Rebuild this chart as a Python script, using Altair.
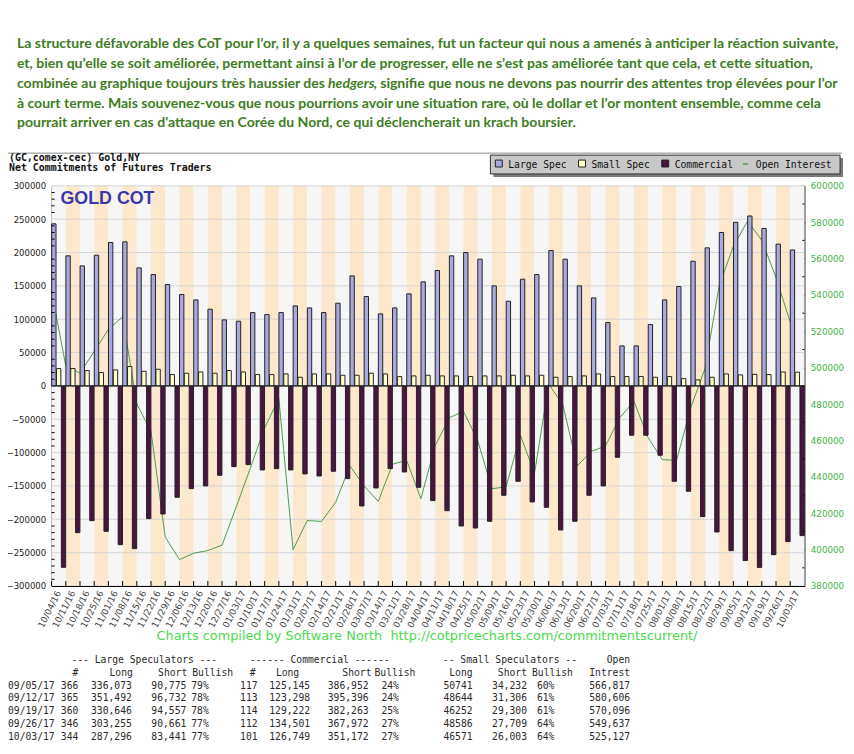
import altair as alt
import pandas as pd

# ---------------- data ----------------
dates = ["10/04/16", "10/11/16", "10/18/16", "10/25/16", "11/01/16", "11/08/16", "11/15/16",
         "11/22/16", "11/29/16", "12/06/16", "12/13/16", "12/20/16", "12/27/16",
         "01/03/17", "01/10/17", "01/17/17", "01/24/17", "01/31/17", "02/07/17", "02/14/17",
         "02/21/17", "02/28/17", "03/07/17", "03/14/17", "03/21/17", "03/28/17", "04/04/17",
         "04/11/17", "04/18/17", "04/25/17", "05/02/17", "05/09/17", "05/16/17", "05/23/17",
         "05/30/17", "06/06/17", "06/13/17", "06/20/17", "06/27/17", "07/03/17", "07/11/17",
         "07/18/17", "07/25/17", "08/01/17", "08/08/17", "08/15/17", "08/22/17", "08/29/17",
         "09/05/17", "09/12/17", "09/19/17", "09/26/17", "10/03/17"]

large_spec = [243000, 195000, 180000, 196000, 215000, 216000, 177000, 167000, 152000, 137000,
              129000, 115000, 99000, 97000, 110000, 107000, 110000, 120000, 117000, 110000,
              124000, 165000, 134000, 108000, 117000, 138000, 156000, 173000, 195000, 200000,
              190000, 150000, 127000, 160000, 167000, 203000, 190000, 150000, 132000, 95000,
              60000, 60000, 92000, 129000, 149000, 187000, 207000, 230000, 245298, 254760,
              236089, 212594, 203855]

small_spec = [26000, 26000, 23000, 20000, 24000, 29000, 22000, 25000, 17000, 19000, 21000,
              19000, 23000, 21000, 17000, 17000, 18000, 13000, 18000, 18000, 16000, 16000,
              19000, 18000, 14000, 15000, 16000, 15000, 15000, 14000, 15000, 15000, 16000,
              15000, 16000, 13000, 14000, 15000, 18000, 14000, 14000, 14000, 13000, 14000,
              11000, 9000, 13000, 18000, 16509, 17338, 16952, 20877, 20568]

commercial = [-272000, -220000, -202000, -218000, -238000, -244000, -199000, -192000, -167000,
              -154000, -150000, -134000, -121000, -118000, -126000, -124000, -126000, -132000,
              -135000, -128000, -139000, -180000, -153000, -124000, -129000, -152000, -172000,
              -187000, -210000, -213000, -203000, -164000, -143000, -174000, -182000, -216000,
              -203000, -164000, -150000, -107000, -74000, -74000, -104000, -143000, -158000,
              -196000, -219000, -247000, -261807, -272098, -253041, -233471, -224423]

open_interest = [542000, 501000, 497000, 509000, 521000, 528000, 480000, 465000, 407000, 394500,
                 398000, 399500, 402500, 423500, 445000, 467000, 483000, 400000, 416000, 415500,
                 426000, 446000, 435000, 426500, 447000, 449000, 428000, 457000, 472500, 476000,
                 460000, 433500, 434500, 463000, 442000, 491000, 479500, 446000, 454000, 457000,
                 472500, 481500, 461500, 449500, 449000, 478000, 499500, 545000, 566817, 580606,
                 570096, 549637, 525127]

series_names = ["Large Spec", "Small Spec", "Commercial"]
legend_labels = ["Large Spec", "Small Spec", "Commercial", "Open Interest"]

paragraph = [
    "La structure défavorable des CoT pour l’or, il y a quelques semaines, fut un facteur qui nous a amenés à anticiper la réaction suivante,",
    "et, bien qu’elle se soit améliorée, permettant ainsi à l’or de progresser, elle ne s’est pas améliorée tant que cela, et cette situation,",
    ["combinée au graphique toujours très haussier des", "hedgers", ", signifie que  nous ne devons pas nourrir des attentes trop élevées pour l’or"],
    "à court terme. Mais souvenez-vous que nous pourrions avoir une situation rare, où le dollar et l’or montent ensemble, comme cela",
    "pourrait arriver en cas d'attaque en Corée du Nord, ce qui déclencherait un krach boursier.",
]
header_lines = ["(GC,comex-cec) Gold,NY", "Net Commitments of Futures Traders"]
badge = "GOLD COT"
credit = "Charts compiled by Software North\u00a0 http://cotpricecharts.com/commitmentscurrent/"

table_groups = ["--- Large Speculators ---", "------ Commercial ------", "-- Small Speculators --", "Open"]
table_heads = ["#", "Long", "Short", "Bullish", "#", "Long", "Short", "Bullish",
               "Long", "Short", "Bullish", "Intrest"]
tbl_dates = ["09/05/17", "09/12/17", "09/19/17", "09/26/17", "10/03/17"]
ls_n = ["366", "365", "360", "346", "344"]
ls_long = ["336,073", "351,492", "330,646", "303,255", "287,296"]
ls_short = ["90,775", "96,732", "94,557", "90,661", "83,441"]
ls_bull = ["79%", "78%", "78%", "77%", "77%"]
c_n = ["117", "113", "114", "112", "101"]
c_long = ["125,145", "123,298", "129,222", "134,501", "126,749"]
c_short = ["386,952", "395,396", "382,263", "367,972", "351,172"]
c_bull = ["24%", "24%", "25%", "27%", "27%"]
ss_long = ["50741", "48644", "46252", "48586", "46571"]
ss_short = ["34,232", "31,306", "29,300", "27,709", "26,003"]
ss_bull = ["60%", "61%", "61%", "64%", "64%"]
oi_tbl = ["566,817", "580,606", "570,096", "549,637", "525,127"]

# ---------------- styles ----------------
W, H = 760, 404
bar_colors = ["#A9A9DF", "#FFFFC8", "#4A1440"]
oi_color = "#4C9C4C"
stripe_a, stripe_b = "#F6F6F6", "#FCE8CC"
para_color = "#3E7D23"
mono = "DejaVu Sans Mono"
sans = "DejaVu Sans"

df = pd.DataFrame({"date": dates, "Large Spec": large_spec, "Small Spec": small_spec,
                   "Commercial": commercial, "oi": open_interest})
df["stripe"] = [i % 2 for i in range(len(dates))]
long_df = df.melt(id_vars=["date"], value_vars=series_names, var_name="series", value_name="value")

xscale = alt.Scale(type="band", domain=dates, paddingInner=0, paddingOuter=0)
xaxis = alt.Axis(title=None, bandPosition=0, labelAngle=-63, labelFont=sans, labelFontSize=9,
                 labelColor="#444", ticks=False, grid=False, domainColor="#000",
                 labelPadding=5, labelOverlap=False)


def X(**kw):
    return alt.X("date:N", sort=dates, scale=xscale, axis=xaxis, **kw)


yL = alt.Scale(domain=[-300000, 300000], nice=False, zero=False)
yR = alt.Scale(domain=[380000, 600000], nice=False, zero=False)
left_ticks = list(range(-300000, 300001, 50000))
right_ticks = list(range(380000, 600001, 20000))
left_minor = [v for v in range(-300000, 300001, 10000) if v % 50000]
right_minor = [v for v in range(380000, 600001, 10000) if v % 20000]

yaxisL = alt.Axis(title=None, values=left_ticks, format="d", labelFont=sans, labelFontSize=8.6,
                  labelColor="#222", grid=False, domainColor="#000", tickColor="#000",
                  tickSize=alt.ExprRef("-5"), labelPadding=11)
yaxisR = alt.Axis(title=None, orient="right", values=right_ticks, format="d", labelFont=sans,
                  labelFontSize=8.8, labelColor="#3FAF3F", grid=False, domainColor="#000",
                  tickColor="#000", tickSize=alt.ExprRef("-4"), labelPadding=10)

stripes = alt.Chart(df).mark_rect().encode(
    x=X(),
    color=alt.condition("datum.stripe == 1", alt.value(stripe_b), alt.value(stripe_a)),
)
grid = alt.Chart(pd.DataFrame({"v": left_ticks})).mark_rule(color="#D6D6D6", strokeWidth=1).encode(
    y=alt.Y("v:Q", scale=yL, axis=None))
line = alt.Chart(df).mark_line(color=oi_color, strokeWidth=1).encode(
    x=X(bandPosition=0), y=alt.Y("oi:Q", scale=yR, axis=yaxisR))
bars = alt.Chart(long_df).mark_bar(stroke="#222", strokeWidth=1).encode(
    x=X(),
    xOffset=alt.XOffset("series:N", sort=series_names,
                        scale=alt.Scale(domain=series_names, paddingInner=0.1, paddingOuter=0.02)),
    y=alt.Y("value:Q", scale=yL, axis=yaxisL),
    color=alt.Color("series:N", scale=alt.Scale(domain=series_names, range=bar_colors), legend=None),
)
zero = alt.Chart(pd.DataFrame({"v": [0]})).mark_rule(color="#222", strokeWidth=1).encode(
    y=alt.Y("v:Q", scale=yL, axis=None))
xticks = alt.Chart(df).mark_rule(color="#000").encode(
    x=X(bandPosition=0), y=alt.value(H - 5), y2=alt.value(H))
minorL = alt.Chart(pd.DataFrame({"v": left_minor})).mark_rule(color="#000").encode(
    x=alt.value(0), x2=alt.value(3), y=alt.Y("v:Q", scale=yL, axis=None))
minorR = alt.Chart(pd.DataFrame({"v": right_minor})).mark_rule(color="#000").encode(
    x=alt.value(W - 2), x2=alt.value(W), y=alt.Y("v:Q", scale=yR, axis=None))

layers = [stripes, grid, line, bars, zero, xticks, minorL, minorR]


def txt(s, x, y, **kw):
    return alt.Chart(pd.DataFrame({"t": [s]})).mark_text(**kw).encode(
        text="t:N", x=alt.value(x), y=alt.value(y))


# paragraph (page x 17, line centres at page y 41, 61, ...)
for i, ln in enumerate(paragraph):
    y = -143 + 20 * i
    style = dict(font="Lato", fontSize=14.2, fontWeight="bold", color=para_color,
                 align="left", baseline="middle")
    if isinstance(ln, list):
        layers.append(txt(ln[0], -35, y, **style))
        layers.append(txt(ln[1], 279, y, fontStyle="italic", **style))
        layers.append(txt(ln[2], 325, y, **style))
    else:
        layers.append(txt(ln, -35, y, **style))

# top rule and header
layers.append(alt.Chart(pd.DataFrame({"a": [0]})).mark_rule(color="#8A8A8A").encode(
    x=alt.value(-44), x2=alt.value(798), y=alt.value(-33)))
layers.append(txt(header_lines[0], -43, -28, font=mono, fontSize=10, fontWeight="bold",
                  color="#111", align="left", baseline="middle"))
layers.append(txt(header_lines[1], -43, -18, font=mono, fontSize=10, fontWeight="bold",
                  color="#111", align="left", baseline="middle"))

# legend box
box = pd.DataFrame({"a": [0]})
layers.append(alt.Chart(box).mark_rect(color="#7A7A7A").encode(
    x=alt.value(446), x2=alt.value(799), y=alt.value(-28), y2=alt.value(-9)))
layers.append(alt.Chart(box).mark_rect(color="#C8C8C8", stroke="#333", strokeWidth=1).encode(
    x=alt.value(443), x2=alt.value(796), y=alt.value(-31), y2=alt.value(-12)))
leg_x = [448, 532, 616, 698]
for i, lab in enumerate(legend_labels):
    if i < 3:
        layers.append(alt.Chart(box).mark_rect(color=bar_colors[i], stroke="#222", strokeWidth=1).encode(
            x=alt.value(leg_x[i]), x2=alt.value(leg_x[i] + 7), y=alt.value(-26), y2=alt.value(-19)))
    else:
        layers.append(alt.Chart(box).mark_rule(color=oi_color, strokeWidth=1.5).encode(
            x=alt.value(leg_x[i]), x2=alt.value(leg_x[i] + 5), y=alt.value(-22)))
    layers.append(txt(lab, leg_x[i] + 13, -21.5, font=mono, fontSize=9.8, color="#111",
                      align="left", baseline="middle"))

# badge
layers.append(txt(badge, 9, 13.5, font="Liberation Sans", fontSize=18, fontWeight="bold",
                  color="#3838AC", align="left", baseline="middle"))

# credit line
layers.append(txt(credit, 379, 455, font=sans, fontSize=13, color="#4CD94C",
                  align="center", baseline="middle"))

# table
tfont = dict(font=mono, fontSize=9.8, color="#2A2A2A")
g_pos = [(20, "left"), (200, "left"), (395, "left"), (584, "right")]
for s, (x, al) in zip(table_groups, g_pos):
    layers.append(txt(s, x, 479, align=al, baseline="middle", **tfont))
h_pos = [(27, "right"), (82, "right"), (137, "right"), (142, "left"), (206, "right"),
         (250, "right"), (323, "right"), (326, "left"), (425, "right"), (480, "right"),
         (485, "left"), (584, "right")]
for s, (x, al) in zip(table_heads, h_pos):
    layers.append(txt(s, x, 492, align=al, baseline="middle", **tfont))
cols = [(tbl_dates, -44, "left"), (ls_n, 27, "right"), (ls_long, 81, "right"),
        (ls_short, 136, "right"), (ls_bull, 141, "left"), (c_n, 208, "right"),
        (c_long, 261, "right"), (c_short, 320, "right"), (c_bull, 333, "left"),
        (ss_long, 425, "right"), (ss_short, 480, "right"), (ss_bull, 490, "left"),
        (oi_tbl, 584, "right")]
for vals, x, al in cols:
    layers.append(txt("\n".join(vals), x, 499.5, align=al, baseline="top", lineBreak="\n",
                      lineHeight=13, **tfont))

chart = alt.layer(*layers).resolve_scale(y="independent").properties(
    width=W, height=H,
    padding={"left": 44, "top": 176, "right": 42, "bottom": 158},
    autosize=alt.AutoSizeParams(type="none"),
    background="#FFFFFF",
).configure_view(stroke=None)

chart.save("out.html", embed_options={"renderer": "svg", "actions": False})
